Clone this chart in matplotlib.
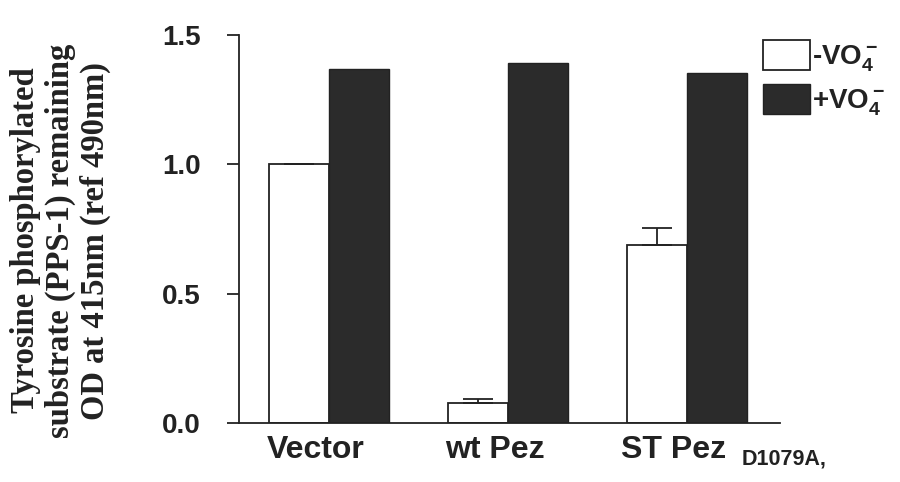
import matplotlib
matplotlib.use("Agg")
import matplotlib.pyplot as plt
import matplotlib.transforms as mtransforms
import numpy as np
from matplotlib.patches import Patch

# Data
groups = ["Vector", "wt Pez", "ST Pez"]
minus_vo4 = [1.0, 0.077, 0.687]
minus_vo4_err = [0.0, 0.016, 0.066]
plus_vo4 = [1.367, 1.39, 1.355]
yticks = [0.0, 0.5, 1.0, 1.5]

plt.rcParams["font.family"] = "Liberation Sans"
plt.rcParams["font.weight"] = "bold"
plt.rcParams["mathtext.fontset"] = "custom"
plt.rcParams["mathtext.rm"] = "Liberation Sans:bold"
plt.rcParams["mathtext.bf"] = "Liberation Sans:bold"
plt.rcParams["mathtext.it"] = "Liberation Sans:bold"

ink = "#222222"
fig = plt.figure(figsize=(9, 4.82), dpi=100)
ax = fig.add_axes([239 / 900, 1 - 423 / 482, 541 / 900, 388 / 482])

x = np.arange(len(groups))
w = 0.335
ax.bar(x - w / 2, minus_vo4, w, color="white", edgecolor=ink, linewidth=1.3,
       yerr=[np.zeros(3), minus_vo4_err], capsize=11,
       error_kw=dict(ecolor=ink, elinewidth=1.3, capthick=1.3))
ax.bar(x + w / 2, plus_vo4, w, color="#2b2b2b", edgecolor=ink, linewidth=1.0)

ax.set_xlim(-0.503, 2.52)
ax.set_ylim(0, 1.5)
ax.set_yticks(yticks)
ax.set_yticklabels(["%.1f" % t for t in yticks])
ax.set_xticks(x)
ax.set_xticklabels(groups)

for s in ["top", "right"]:
    ax.spines[s].set_visible(False)
for s in ["left", "bottom"]:
    ax.spines[s].set_linewidth(1.3)
    ax.spines[s].set_color(ink)

ax.tick_params(axis="y", direction="out", length=8.6, width=1.3, pad=19,
               labelsize=20, colors=ink)
ax.tick_params(axis="x", length=0, pad=9, labelsize=23, colors=ink)

# shift x labels a little left as in the original
offset = mtransforms.ScaledTranslation(-13 / 100, 0, fig.dpi_scale_trans)
for lbl in ax.get_xticklabels():
    lbl.set_transform(lbl.get_transform() + offset)

ax.annotate("D1079A,", xy=(2, 0), xycoords=("data", "axes fraction"),
            xytext=(55 / 1.389, -42 / 1.389), textcoords="offset points",
            fontsize=15.5, fontweight="bold", color=ink, ha="left", va="baseline")

ax.set_ylabel("Tyrosine phosphorylated\nsubstrate (PPS-1) remaining\nOD at 415nm (ref 490nm)",
              family="Liberation Serif", fontweight="bold", fontsize=23.5,
              color=ink, va="center", ha="center", linespacing=1.15)
ax.yaxis.set_label_coords(-0.33, 0.47)

handles = [Patch(facecolor="white", edgecolor=ink, linewidth=1.3),
           Patch(facecolor="#2b2b2b", edgecolor=ink, linewidth=1.0)]
fig.legend(handles, [r"-VO$_4^-$", r"+VO$_4^-$"], loc="upper left",
           bbox_to_anchor=(763 / 900, 1 - 40 / 482), frameon=False,
           fontsize=20, handlelength=1.7, handleheight=1.3,
           handletextpad=0.08, labelspacing=0.35, borderpad=0,
           borderaxespad=0, labelcolor=ink)

fig.savefig("out.png", dpi=100)
